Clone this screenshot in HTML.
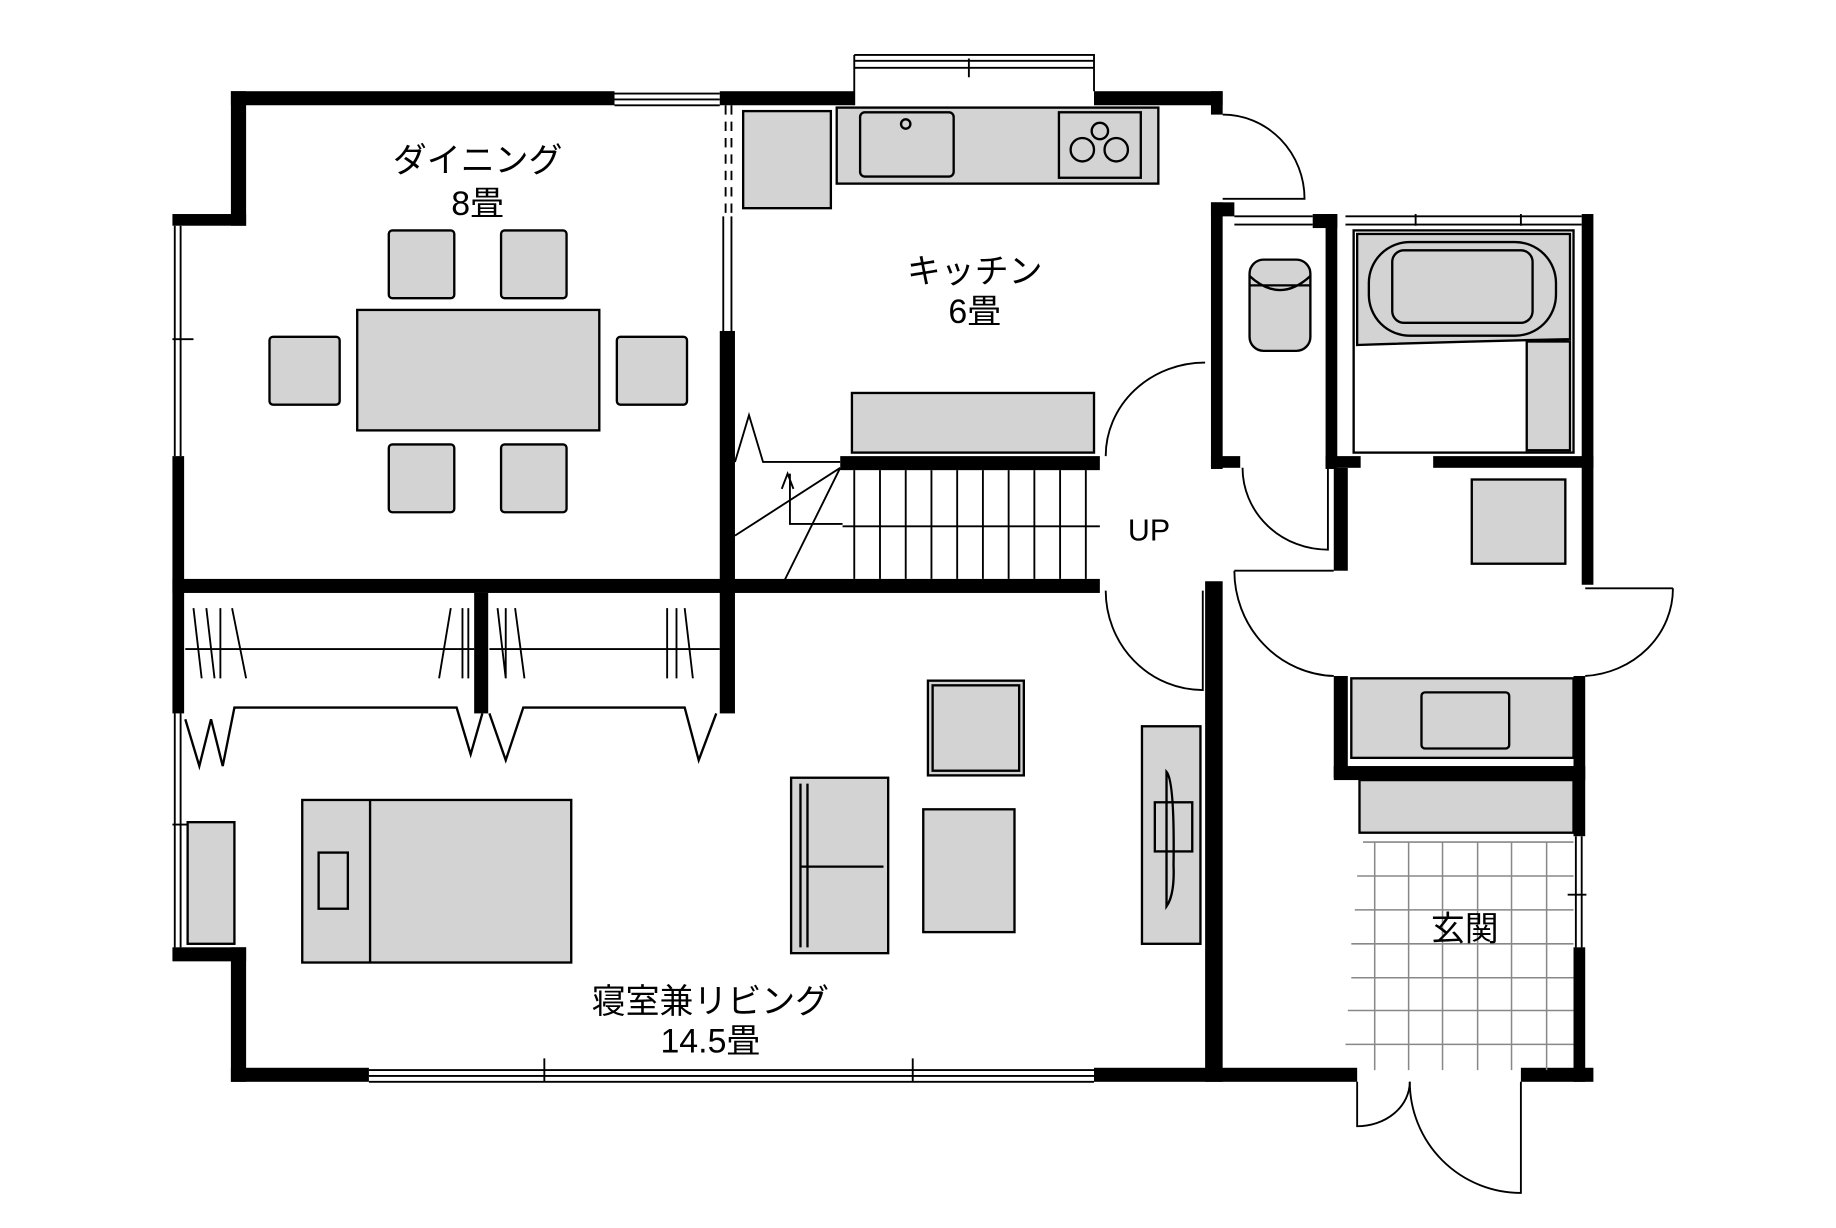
<!DOCTYPE html>
<html><head><meta charset="utf-8"><style>html,body{margin:0;padding:0;background:#fff}svg{display:block}text{font-family:"Liberation Sans","Noto Sans CJK JP",sans-serif;fill:#000}</style></head>
<body>
<svg width="1836" height="1228" viewBox="0 0 1569 1050" xmlns="http://www.w3.org/2000/svg">
<g fill="#000" stroke="none">
<!-- top walls -->
<rect x="197" y="78" width="328" height="12"/>
<rect x="615" y="78" width="115" height="12"/>
<rect x="935" y="78" width="110" height="12"/>
<rect x="1035" y="78" width="10" height="20"/>
<!-- dining left -->
<rect x="197" y="78" width="13" height="115"/>
<rect x="147" y="183" width="63" height="10"/>
<rect x="147" y="390" width="10" height="220"/>
<!-- mid horizontal -->
<rect x="147" y="495" width="793" height="12"/>
<!-- dining/kitchen divider -->
<rect x="615" y="283" width="13" height="327"/>
<rect x="405" y="507" width="12" height="103"/>
<!-- lower left -->
<rect x="147" y="810" width="63" height="12"/>
<rect x="197" y="810" width="13" height="115"/>
<rect x="197" y="913" width="118" height="12"/>
<rect x="935" y="913" width="225" height="12"/>
<rect x="1300" y="913" width="62" height="12"/>
<rect x="1030" y="497" width="15" height="428"/>
<!-- toilet -->
<rect x="1035" y="173" width="10" height="228"/>
<rect x="1035" y="173" width="20" height="12"/>
<rect x="1035" y="390" width="25" height="10"/>
<rect x="1122" y="183" width="21" height="12"/>
<rect x="1133" y="183" width="10" height="218"/>
<!-- bath -->
<rect x="1352" y="183" width="10" height="317"/>
<rect x="1225" y="390" width="137" height="10"/>
<rect x="1133" y="390" width="30" height="10"/>
<rect x="1140" y="400" width="12" height="88"/>
<!-- shoe closet / entrance -->
<rect x="1140" y="578" width="12" height="87"/>
<rect x="1140" y="655" width="215" height="12"/>
<rect x="1345" y="578" width="10" height="137"/>
<rect x="1345" y="810" width="10" height="115"/>
<rect x="718" y="390" width="222" height="12"/>
</g>
<g fill="none" stroke="#000" stroke-width="1.6">
<!-- windows -->
<path d="M525 80H615M525 85H615M525 90H615"/>
<path d="M730 47H935V78M730 47V90M730 52H935M730 58H935M828 50V66"/>
<path d="M149 193V390M154 193V390M147 290H165"/>
<path d="M149 610V810M154 610V810M147 705H165"/>
<path d="M315 915H935M315 920H935M315 925H935M465 905V925M780 905V925"/>
<path d="M1347 715V810M1352 715V810M1340 765H1356"/>
<path d="M1055 185H1122M1055 192H1122M1150 185H1352M1150 192H1352M1210 183V193M1300 183V193"/>
<path d="M620 90V185M625 90V185" stroke-dasharray="8 6"/>
<path d="M618 185V283M625 185V283"/>
<!-- doors -->
<path d="M1045 98A70 72 0 0 1 1115 170H1045"/>
<path d="M945 390A85 80 0 0 1 1030 310"/>
<path d="M1062 400A73 70 0 0 0 1135 470V400"/>
<path d="M945 505A83 85 0 0 0 1028 590V505"/>
<path d="M1055 488H1140M1055 488A88 90 0 0 0 1140 578"/>
<path d="M1430 503H1355M1430 503A80 75 0 0 1 1355 578"/>
<path d="M1160 925V963A45 38 0 0 0 1205 925"/>
<path d="M1300 925V1020A95 95 0 0 1 1205 925"/>
<!-- stairs -->
<path d="M730 402V495M752 402V495M774 402V495M796 402V495M818 402V495M840 402V495M862 402V495M884 402V495M906 402V495M928 402V495"/>
<path d="M720 450H940"/>
<path d="M718 400L628 458M718 400L670 497"/>
<path d="M628 395L640 355L652 395H718M675 405V448H720M668 418L673 405L678 418"/>
<!-- closets -->
<path d="M158 555H405M418 555H615"/>
<path d="M165 520L172 580M176 520L183 580M188 520V580M198 520L210 580M385 520L375 580M395 520V580M400 520V580M425 520L432 580M432 520V580M440 520L448 580M570 520V580M578 520V580M585 520L592 580"/>
<path d="M158 615L170 655L180 615L190 655L200 605H390L402 645L412 610M418 610L432 650L447 605H585L597 650L612 610" stroke-width="2"/>
<!-- genkan tiles -->
<g stroke="#888" stroke-width="1.3">
<path d="M1175 720V915M1204 720V915M1233 720V915M1263 720V915M1292 720V915M1322 720V915"/>
<path d="M1165 720H1345M1160 749H1345M1158 778H1345M1155 807H1345M1155 836H1345M1152 864H1345M1150 893H1345"/>
</g>
</g>
<g fill="#d3d3d3" stroke="#000" stroke-width="2">
<!-- kitchen -->
<rect x="715" y="92" width="275" height="65"/>
<rect x="735" y="96" width="80" height="55" rx="4"/>
<rect x="905" y="96" width="70" height="56"/>
<circle cx="940" cy="112" r="7"/><circle cx="925" cy="128" r="10"/><circle cx="954" cy="128" r="10"/>
<circle cx="774" cy="106" r="4"/>
<rect x="635" y="95" width="75" height="83"/>
<rect x="728" y="336" width="207" height="51"/>
<!-- dining -->
<rect x="305" y="265" width="207" height="103"/>
<rect x="332" y="197" width="56" height="58" rx="3"/>
<rect x="428" y="197" width="56" height="58" rx="3"/>
<rect x="332" y="380" width="56" height="58" rx="3"/>
<rect x="428" y="380" width="56" height="58" rx="3"/>
<rect x="230" y="288" width="60" height="58" rx="3"/>
<rect x="527" y="288" width="60" height="58" rx="3"/>
<!-- bedroom -->
<rect x="258" y="684" width="230" height="139"/>
<path d="M316 684V823" fill="none"/>
<rect x="272" y="729" width="25" height="48" fill="none"/>
<rect x="160" y="703" width="40" height="104"/>
<rect x="676" y="665" width="83" height="150"/>
<path d="M684 670V810M690 670V810M684 741H755" fill="none"/>
<rect x="793" y="582" width="82" height="81"/>
<rect x="797" y="586" width="74" height="73" fill="none"/>
<rect x="789" y="692" width="78" height="105"/>
<rect x="976" y="621" width="50" height="186"/>
<path d="M997 660Q1004 668 1003 740Q1004 765 997 775Z" fill="none"/>
<rect x="987" y="686" width="32" height="42" fill="none"/>
<!-- toilet/bath/wash -->
<rect x="1068" y="222" width="52" height="78" rx="12"/>
<path d="M1068 236Q1094 260 1120 236M1068 244H1120" fill="none"/>
<rect x="1157" y="197" width="188" height="190" fill="none"/>
<path d="M1160 200H1342V290Q1250 292 1160 295Z"/>
<rect x="1170" y="207" width="160" height="80" rx="35"/>
<rect x="1190" y="214" width="120" height="62" rx="10"/>
<rect x="1305" y="292" width="37" height="93"/>
<rect x="1258" y="410" width="80" height="72"/>
<rect x="1155" y="580" width="190" height="68"/>
<rect x="1215" y="592" width="75" height="48" rx="3"/>
<rect x="1162" y="667" width="183" height="45"/>
</g>
<g font-size="29" text-anchor="middle">
<text x="408" y="147">ダイニング</text>
<text x="408" y="184">8畳</text>
<text x="833" y="242">キッチン</text>
<text x="833" y="276">6畳</text>
<text x="982" y="462" font-size="26">UP</text>
<text x="607" y="866">寝室兼リビング</text>
<text x="607" y="900">14.5畳</text>
<text x="1252" y="804">玄関</text>
</g>
</svg>
</body></html>
